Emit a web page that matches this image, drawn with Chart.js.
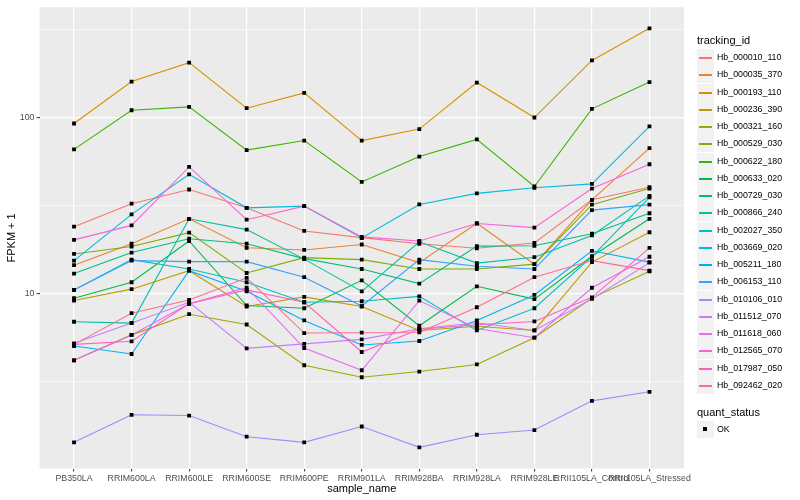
<!DOCTYPE html>
<html>
<head>
<meta charset="utf-8">
<script src="https://cdn.jsdelivr.net/npm/chart.js@4.4.0/dist/chart.umd.min.js"></script>
<style>
  body { margin: 0; background: #fff; font-family: "Liberation Sans", Arial, sans-serif; }
  #wrap { position: relative; width: 800px; height: 500px; }
  #legend div { position: absolute; }
  .ttl { font-size: 11px; line-height: 13px; color: #000; white-space: nowrap; }
  .lab { font-size: 8.8px; line-height: 10px; color: #000; white-space: nowrap; }
  .key { width: 17px; height: 17px; background: #F2F2F2; }
</style>
</head>
<body>
<div id="wrap">
  <canvas id="mycanvas" width="800" height="500"></canvas>
  <div id="legend"></div>
</div>
<script>
var sampleNames = ['PB350LA', 'RRIM600LA', 'RRIM600LE', 'RRIM600SE', 'RRIM600PE', 'RRIM901LA',
  'RRIM928BA', 'RRIM928LA', 'RRIM928LE', 'RRII105LA_Control', 'RRII105LA_Stressed'];

var trackingIds = ['Hb_000010_110', 'Hb_000035_370', 'Hb_000193_110', 'Hb_000236_390', 'Hb_000321_160',
  'Hb_000529_030', 'Hb_000622_180', 'Hb_000633_020', 'Hb_000729_030', 'Hb_000866_240', 'Hb_002027_350',
  'Hb_003669_020', 'Hb_005211_180', 'Hb_006153_110', 'Hb_010106_010', 'Hb_011512_070', 'Hb_011618_060',
  'Hb_012565_070', 'Hb_017987_050', 'Hb_092462_020'];

var lineColors = ['#F8766D', '#EA8331', '#D89000', '#C09B00', '#A3A500', '#7CAE00', '#39B600', '#00BB4E',
  '#00BF7D', '#00C1A3', '#00BFC4', '#00BAE0', '#00B0F6', '#35A2FF', '#9590FF', '#C77CFF', '#E76BF3',
  '#FA62DB', '#FF62BC', '#FF6C91'];

// FPKM + 1 per sample, one array per gene
var hb_000010_110 = [24.0, 32.4, 39.0, 30.7, 22.7, 20.8, 19.2, 18.1, 19.4, 34.1, 40.2];
var hb_000035_370 = [14.5, 19.2, 26.6, 18.2, 17.7, 19.0, 15.0, 25.1, 14.7, 34.1, 67.1];
var hb_000193_110 = [92.5, 160, 205, 113, 138, 74, 86, 158, 100, 211, 321];
var hb_000236_390 = [9.13, 10.6, 13.5, 8.45, 9.58, 8.45, 6.18, 6.53, 6.18, 15.1, 22.3];
var hb_000321_160 = [4.18, 5.83, 7.64, 6.68, 3.92, 3.35, 3.61, 3.96, 5.62, 9.43, 13.4];
var hb_000529_030 = [16.8, 18.5, 22.2, 13.1, 16.0, 15.6, 13.8, 13.8, 14.7, 32.0, 39.5];
var hb_000622_180 = [65.9, 110, 115, 65.3, 74, 43.1, 60, 75.1, 40.6, 112, 159];
var hb_000633_020 = [9.41, 11.6, 19.9, 8.56, 8.26, 11.9, 6.57, 11.0, 9.31, 16.3, 26.6];
var hb_000729_030 = [13.0, 17.1, 20.5, 19.2, 15.8, 13.8, 11.4, 18.6, 18.7, 21.9, 28.6];
var hb_000866_240 = [6.92, 6.80, 26.6, 23.1, 15.7, 10.3, 19.7, 14.9, 16.1, 21.4, 35.9];
var hb_002027_350 = [10.5, 15.6, 13.8, 11.6, 8.93, 9.05, 9.65, 6.18, 8.26, 16.2, 35.2];
var hb_003669_020 = [15.4, 28.2, 47.6, 30.7, 31.4, 20.7, 32.1, 37.1, 39.9, 42.0, 89.0];
var hb_005211_180 = [5.04, 4.54, 13.5, 10.3, 7.04, 5.11, 5.38, 7.04, 9.83, 17.5, 15.1];
var hb_006153_110 = [10.5, 15.4, 15.2, 15.2, 12.4, 8.50, 15.6, 14.3, 13.8, 29.8, 32.0];
var hb_010106_010 = [1.43, 2.05, 2.03, 1.54, 1.43, 1.76, 1.34, 1.58, 1.68, 2.46, 2.77];
var hb_011512_070 = [5.22, 6.81, 8.93, 4.89, 5.18, 5.50, 6.32, 6.83, 6.18, 9.33, 15.0];
var hb_011618_060 = [4.18, 5.83, 8.75, 10.8, 4.91, 3.67, 9.13, 6.34, 5.62, 10.8, 16.2];
var hb_012565_070 = [20.2, 24.4, 52.4, 26.3, 31.4, 21.0, 19.9, 25.0, 23.7, 39.5, 54.3];
var hb_017987_050 = [5.15, 5.36, 8.75, 10.5, 8.93, 4.66, 6.28, 6.65, 6.95, 9.53, 18.2];
var hb_092462_020 = [5.15, 7.74, 9.21, 12.3, 5.97, 6.00, 6.02, 8.37, 12.4, 15.4, 13.5];

var series = [hb_000010_110, hb_000035_370, hb_000193_110, hb_000236_390, hb_000321_160, hb_000529_030,
  hb_000622_180, hb_000633_020, hb_000729_030, hb_000866_240, hb_002027_350, hb_003669_020, hb_005211_180,
  hb_006153_110, hb_010106_010, hb_011512_070, hb_011618_060, hb_012565_070, hb_017987_050, hb_092462_020];

var yTicks = [Math.pow(10, 0.5), 10, Math.pow(10, 1.5), 100, Math.pow(10, 2.5)];
var yLabels = ['', '10', '', '100', ''];

var fontFamily = '"Liberation Sans", Arial, sans-serif';

function isMajor(v) {
  var l = Math.log10(v);
  return Math.abs(l - Math.round(l)) < 1e-6;
}

var datasets = [];
for (var i = 0; i < series.length; i++) {
  datasets.push({
    label: trackingIds[i],
    data: series[i].map(function(v, j) { return {x: j + 1, y: v}; }),
    borderColor: lineColors[i],
    borderWidth: 1.1,
    pointRadius: 0,
    fill: false,
    tension: 0,
    order: 100 - i
  });
}

// points on top of every line (quant_status = OK)
var okPoints = [];
series.forEach(function(s) {
  s.forEach(function(v, j) { okPoints.push({x: j + 1, y: v}); });
});
datasets.push({
  label: 'OK',
  data: okPoints,
  showLine: false,
  pointStyle: 'rect',
  pointRadius: 2.7,
  pointBackgroundColor: '#000',
  pointBorderColor: '#000',
  pointBorderWidth: 0,
  order: 0
});

var panelBg = {
  id: 'panelBg',
  beforeDraw: function(chart) {
    var a = chart.chartArea, c = chart.ctx;
    c.save();
    c.fillStyle = '#EBEBEB';
    c.fillRect(a.left, a.top, a.right - a.left, a.bottom - a.top);
    c.restore();
  }
};

var ctx = document.getElementById('mycanvas');
var lineChart = new Chart(ctx, {
  type: 'line',
  data: { datasets: datasets },
  plugins: [panelBg],
  options: {
    responsive: false,
    animation: false,
    layout: { padding: { top: 5, right: 116, left: 0, bottom: 0 } },
    plugins: { legend: { display: false }, tooltip: { enabled: false } },
    scales: {
      x: {
        type: 'linear',
        min: 0.4,
        max: 11.6,
        afterBuildTicks: function(axis) {
          axis.ticks = sampleNames.map(function(n, i) { return {value: i + 1}; });
        },
        afterFit: function(axis) { axis.height = 31.5; },
        ticks: {
          autoSkip: false, maxRotation: 0, minRotation: 0, padding: 2,
          color: '#4D4D4D', font: { family: fontFamily, size: 8.8 },
          callback: function(v) { return sampleNames[Math.round(v) - 1]; }
        },
        grid: { color: '#FFFFFF', lineWidth: 1.2, tickColor: '#333333', tickLength: 3, tickWidth: 1 },
        border: { display: false },
        title: { display: true, text: 'sample_name', color: '#000', font: { family: fontFamily, size: 11 },
                 padding: { top: 0, bottom: 4 } }
      },
      y: {
        type: 'logarithmic',
        min: 1.016,
        max: 422.7,
        afterBuildTicks: function(axis) {
          axis.ticks = yTicks.map(function(v) { return {value: v}; });
        },
        afterFit: function(axis) { axis.width = 39.5; },
        ticks: {
          padding: 2, color: '#4D4D4D', font: { family: fontFamily, size: 8.8 },
          callback: function(v, idx) { return yLabels[idx]; }
        },
        grid: {
          color: '#FFFFFF',
          lineWidth: function(c) { return isMajor(c.tick.value) ? 1.2 : 0.6; },
          tickColor: function(c) { return isMajor(c.tick.value) ? '#333333' : 'rgba(0,0,0,0)'; },
          tickLength: 3,
          tickWidth: 1
        },
        border: { display: false },
        title: { display: true, text: 'FPKM + 1', color: '#000', font: { family: fontFamily, size: 11 },
                 padding: { top: 5, bottom: 0 } }
      }
    }
  }
});

// ggplot-style legend on the right
var legend = document.getElementById('legend');
function addDiv(cls, left, top, text, style) {
  var d = document.createElement('div');
  d.className = cls;
  d.style.left = left + 'px';
  d.style.top = top + 'px';
  if (style) for (var k in style) d.style[k] = style[k];
  if (text) d.textContent = text;
  legend.appendChild(d);
  return d;
}
addDiv('ttl', 697, 34, 'tracking_id');
for (var k = 0; k < trackingIds.length; k++) {
  var cy = Math.round(57 + k * 17.26);
  addDiv('key', 697, cy - 8);
  addDiv('', 699, cy - 0.5, '', { width: '13px', height: '2px', backgroundColor: lineColors[k] });
  addDiv('lab', 717, cy - 5, trackingIds[k]);
}
addDiv('ttl', 697, 405.5, 'quant_status');
addDiv('key', 697, 421);
addDiv('', 703, 427, '', { width: '4px', height: '4px', backgroundColor: '#000' });
addDiv('lab', 717, 424, 'OK');
</script>
</body>
</html>
